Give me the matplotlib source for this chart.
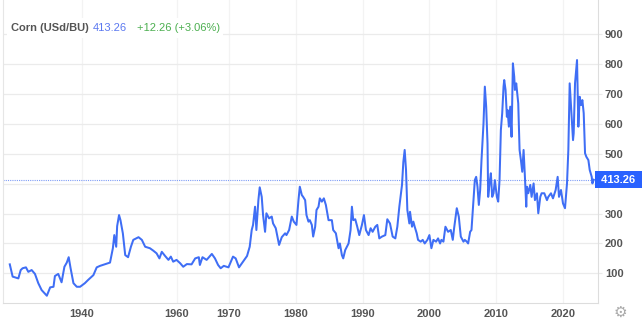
import matplotlib
matplotlib.use("Agg")
import matplotlib.pyplot as plt
from matplotlib.patches import Rectangle
import numpy as np

plt.rcParams["font.family"] = ["Liberation Sans", "DejaVu Sans"]

# Corn price, USd/BU
years = [
    1924.8, 1925.4, 1926.6, 1927.1, 1927.5, 1928.2, 1928.7, 1929.4, 1930.1, 1930.8,
    1931.5, 1932.6, 1933.3, 1934.0, 1934.3, 1935.0, 1935.7, 1936.3, 1936.8, 1937.2,
    1937.6, 1938.2, 1938.9, 1939.6, 1940.6, 1941.3, 1942.4, 1943.1, 1943.8, 1945.9,
    1946.5, 1946.8, 1947.2, 1947.4, 1947.8, 1948.1, 1948.6, 1949.1, 1949.7, 1950.3,
    1950.8, 1951.9, 1952.6, 1953.3, 1954.3, 1955.0, 1955.7, 1956.3, 1956.8, 1957.5,
    1958.2, 1958.7, 1959.2, 1959.9, 1960.6, 1961.2, 1961.9, 1962.8, 1963.5, 1964.2,
    1964.4, 1964.9, 1965.7, 1966.7, 1967.3, 1967.9, 1968.4, 1969.0, 1969.9, 1970.6,
    1971.0, 1971.5, 1972.1, 1972.7, 1973.1, 1973.4, 1973.6, 1973.9, 1974.1, 1974.4,
    1974.6, 1974.9, 1975.1, 1975.4, 1975.6, 1976.0, 1976.4, 1976.6, 1977.0, 1977.5,
    1977.9, 1978.4, 1978.6, 1979.0, 1979.4, 1979.7, 1980.1, 1980.4, 1980.6, 1980.9,
    1981.1, 1981.4, 1981.6, 1981.9, 1982.1, 1982.4, 1982.6, 1982.9, 1983.1, 1983.4,
    1983.6, 1983.9, 1984.2, 1984.5, 1984.9, 1985.4, 1985.6, 1986.0, 1986.4, 1986.6,
    1986.9, 1987.1, 1987.4, 1987.9, 1988.2, 1988.4, 1988.6, 1988.9, 1989.2, 1989.5,
    1989.9, 1990.2, 1990.5, 1990.9, 1991.2, 1991.5, 1991.9, 1992.2, 1992.5, 1992.9,
    1993.4, 1993.7, 1994.1, 1994.5, 1994.9, 1995.2, 1995.5, 1995.9, 1996.1, 1996.3,
    1996.5, 1996.7, 1997.0, 1997.1, 1997.4, 1997.6, 1997.8, 1998.1, 1998.3, 1998.7,
    1999.0, 1999.3, 1999.7, 2000.0, 2000.3, 2000.6, 2001.0, 2001.3, 2001.6, 2001.8,
    2002.1, 2002.4, 2002.8, 2003.2, 2003.5, 2003.7, 2004.1, 2004.4, 2004.7, 2005.1,
    2005.3, 2005.6, 2005.8, 2006.1, 2006.3, 2006.6, 2006.8, 2007.0, 2007.2, 2007.4,
    2007.6, 2007.8, 2008.1, 2008.3, 2008.5, 2008.7, 2008.8, 2009.0, 2009.2, 2009.4,
    2009.6, 2009.8, 2010.1, 2010.3, 2010.5, 2010.7, 2010.9, 2011.1, 2011.2, 2011.4,
    2011.6, 2011.7, 2011.9, 2012.1, 2012.3, 2012.5, 2012.7, 2012.8, 2013.0, 2013.2,
    2013.3, 2013.5, 2013.7, 2013.9, 2014.1, 2014.3, 2014.5, 2014.6, 2014.8, 2015.1,
    2015.3, 2015.6, 2015.8, 2016.1, 2016.3, 2016.6, 2016.8, 2017.2, 2017.6, 2017.8,
    2018.2, 2018.5, 2018.9, 2019.2, 2019.4, 2019.7, 2020.0, 2020.3, 2020.6, 2020.8,
    2021.0, 2021.3, 2021.5, 2021.6, 2021.8, 2022.1, 2022.3, 2022.5, 2022.7, 2022.9,
    2023.1, 2023.3, 2023.5, 2023.8, 2024.0, 2024.3, 2024.4, 2024.6,
]
prices = [
    130, 89, 83, 111, 117, 120, 105, 111, 98, 67,
    44, 25, 53, 55, 91, 98, 70, 122, 136, 154,
    117, 67, 55, 55, 67, 78, 94, 120, 125, 136,
    184, 228, 189, 258, 295, 278, 234, 161, 154, 189,
    212, 221, 212, 189, 184, 176, 167, 150, 172, 158,
    145, 156, 139, 145, 134, 122, 131, 130, 150, 154,
    128, 154, 145, 165, 150, 128, 117, 125, 120, 156,
    150, 120, 139, 158, 189, 245, 262, 323, 245, 345,
    388, 356, 295, 239, 301, 284, 290, 267, 251, 195,
    221, 234, 228, 245, 290, 273, 262, 345, 390, 362,
    356, 345, 295, 273, 278, 262, 223, 256, 312, 323,
    351, 340, 351, 329, 278, 278, 245, 234, 184, 200,
    161, 150, 178, 200, 245, 323, 278, 281, 256, 228,
    262, 295, 245, 228, 251, 239, 256, 262, 217, 223,
    228, 281, 267, 223, 217, 256, 323, 396, 473, 513,
    446, 312, 267, 306, 256, 273, 256, 234, 212, 206,
    212, 200, 212, 228, 184, 212, 206, 217, 200, 212,
    206, 256, 239, 245, 212, 251, 318, 290, 223, 206,
    212, 206, 200, 239, 245, 345, 412, 423, 390, 329,
    379, 479, 602, 725, 658, 535, 356, 401, 435, 356,
    368, 412, 356, 340, 412, 580, 636, 725, 747, 714,
    624, 647, 591, 658, 557, 803, 758, 714, 736, 691,
    669, 513, 479, 440, 513, 423, 323, 390, 368, 396,
    356, 401, 345, 368, 301, 356, 368, 368, 345, 356,
    368, 351, 379, 423, 356, 379, 334, 318, 401, 513,
    736, 624, 546, 569, 736, 814, 591, 691, 663, 680,
    636, 502, 490, 479, 446, 423, 401, 413.26,
]
last_price = 413.26
change = 12.26
change_pct = 3.06
x_ticks = [1940, 1960, 1970, 1980, 1990, 2000, 2010, 2020]
y_ticks = [100, 200, 300, 400, 500, 600, 700, 800, 900]

# the source chart stretches the time axis unevenly; mimic it with a piecewise scale
anchor_years = [1900, 1940, 1960, 1970, 2020, 2100]
anchor_pos = [-108, 82, 177, 229, 563, 1097.4]


def fwd(v):
    return np.interp(v, anchor_years, anchor_pos)


def inv(p):
    return np.interp(p, anchor_pos, anchor_years)


blue = "#3f6ef5"
grid_c = "#ebebeb"

fig = plt.figure(figsize=(6.44, 3.2), dpi=100)
ax = fig.add_axes([3 / 644, 16.8 / 320, 595 / 644, 303.2 / 320])

ax.set_xscale("function", functions=(fwd, inv))
ax.plot(years, prices, color=blue, lw=1.45, zorder=3)
ax.axhline(last_price, color="#7f9cf5", lw=0.8, ls=(0, (1, 1)), zorder=2)

ax.set_xlim(1923.37, 2025.24)
ax.set_ylim(0, 1015)
ax.set_xticks(x_ticks)
ax.set_xticklabels([str(t) for t in x_ticks])
ax.set_yticks(y_ticks)
# the 400 label sits under the last-price tag, so it is left blank
ax.set_yticklabels(["" if t == 400 else str(t) for t in y_ticks])
ax.yaxis.tick_right()
ax.grid(True, axis="y", color=grid_c, lw=0.9)
ax.grid(True, axis="x", color="#f3f3f3", lw=0.9)
ax.tick_params(axis="x", length=0, pad=4, labelsize=8, labelcolor="#555555")
ax.tick_params(axis="y", length=3, color=grid_c, pad=2, labelsize=8,
               labelcolor="#555555")
for lab in ax.get_yticklabels() + ax.get_xticklabels():
    lab.set_fontweight("bold")

ax.spines["top"].set_visible(False)
ax.spines["left"].set_color("#e6e6e6")
ax.spines["right"].set_color("#dddddd")
ax.spines["bottom"].set_color("#dddddd")

# current value tag on the price axis
ax.text(1.0, last_price, f" {last_price:.2f} ", transform=ax.get_yaxis_transform(),
        ha="left", va="center", color="white", fontsize=8, fontweight="bold",
        bbox=dict(boxstyle="square,pad=0.3", fc="#2962ff", ec="none"),
        clip_on=False, zorder=5)

# header on a white strip that hides the gridlines behind it
fig.patches.append(Rectangle((7 / 644, 1 - 38 / 320), 216 / 644, 20 / 320,
                             transform=fig.transFigure, fc="white", ec="none",
                             zorder=4))
t1 = fig.text(11 / 644, 1 - 28 / 320, "Corn (USd/BU)", fontsize=8,
              color="#555555", va="center", fontweight="bold", zorder=5)
fig.canvas.draw()
bb = t1.get_window_extent()
t2 = fig.text(bb.x1 / 644 + 0.006, 1 - 28 / 320, f"{last_price:.2f}", fontsize=8,
              color="#5b78f0", va="center", zorder=5)
fig.canvas.draw()
bb = t2.get_window_extent()
fig.text(bb.x1 / 644 + 0.016, 1 - 28 / 320,
         f"+{change:.2f} (+{change_pct:.2f}%)", fontsize=8, color="#4caf50",
         va="center", zorder=5)

fig.text(620 / 644, 1 - 312 / 320, "\u2699", fontsize=11, color="#aaaaaa",
         ha="center", va="center", family="DejaVu Sans")

fig.savefig("out.png", dpi=100)
